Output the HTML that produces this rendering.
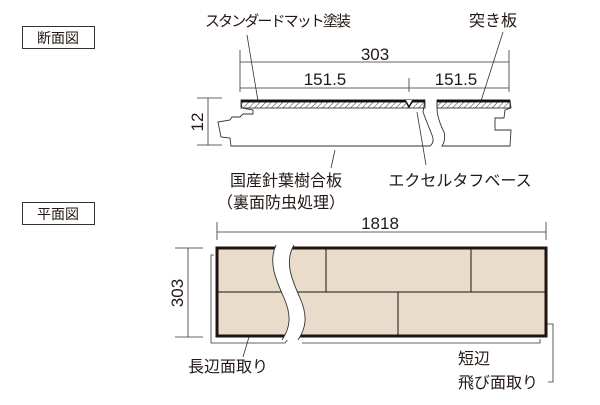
<!DOCTYPE html>
<html><head><meta charset="utf-8"><style>
html,body{margin:0;padding:0;background:#fff;}
svg text{font-family:"Liberation Sans","Noto Sans CJK JP",sans-serif;fill:#231815;}
</style></head><body>
<svg width="600" height="400" viewBox="0 0 600 400" xmlns="http://www.w3.org/2000/svg">
<defs>
<pattern id="h" width="4" height="4" patternUnits="userSpaceOnUse" patternTransform="rotate(45)">
<line x1="0" y1="0" x2="0" y2="4" stroke="#333" stroke-width="1"/></pattern>
</defs>
<rect x="22.5" y="26.5" width="72" height="22" fill="none" stroke="#333"/>
<text x="58" y="43" font-size="14" text-anchor="middle">断面図</text>
<rect x="22.5" y="202.5" width="72" height="22" fill="none" stroke="#333"/>
<text x="58" y="219" font-size="14" text-anchor="middle">平面図</text>

<text x="278" y="26" font-size="15" text-anchor="middle" textLength="146">スタンダードマット塗装</text>
<text x="493" y="26" font-size="16" text-anchor="middle">突き板</text>
<line x1="247" y1="35" x2="258" y2="101" stroke="#333" stroke-width="0.8"/>
<line x1="503" y1="32" x2="481" y2="101" stroke="#333" stroke-width="0.8"/>

<g stroke="#333" stroke-width="0.8" fill="none">
<line x1="240" y1="50" x2="240" y2="92"/>
<line x1="509" y1="50" x2="509" y2="92"/>
<line x1="240" y1="62" x2="509" y2="62"/>
<line x1="240" y1="88" x2="509" y2="88"/>
<line x1="409" y1="78" x2="409" y2="92"/>
<line x1="197" y1="98" x2="222" y2="98"/>
<line x1="197" y1="145" x2="222" y2="145"/>
<line x1="208" y1="98" x2="208" y2="145"/>
</g>
<text x="375" y="60" font-size="17" text-anchor="middle">303</text>
<text x="325" y="85" font-size="17" text-anchor="middle">151.5</text>
<text x="456" y="85" font-size="17" text-anchor="middle">151.5</text>
<text transform="translate(203,122) rotate(-90)" font-size="17" text-anchor="middle">12</text>

<g stroke="#333" stroke-width="0.9">
<path d="M241,100 L425,100 L423,112 Q428,125 432,135 Q435,142 430,146 L231,146 L230,138 L221,137 L218,122 L230,120 L232,117 L240,117 L243,114 L253,114 L253,110 L242,108 Z" fill="#fff"/>
<path d="M437,100 L510,100 L511,108 L505,110 L504,118 L495,118 L495,130 L511,130 L510,146 L442,146 Q446,140 444,132 Q437,118 437,108 Z" fill="#fff"/>
<rect x="241" y="102" width="184" height="6" fill="url(#h)"/>
<rect x="437" y="102" width="73" height="6" fill="url(#h)"/>
</g>
<line x1="241" y1="101" x2="425" y2="101" stroke="#111" stroke-width="2.5"/>
<line x1="437" y1="101" x2="510" y2="101" stroke="#111" stroke-width="2.5"/>
<path d="M405,100 L409,107 L413,100" fill="#fff" stroke="#111" stroke-width="1.5"/>
<line x1="335" y1="150" x2="331" y2="168" stroke="#333" stroke-width="0.8"/>
<line x1="417" y1="112" x2="426" y2="165" stroke="#333" stroke-width="0.8"/>
<text x="286" y="186" font-size="16" text-anchor="middle">国産針葉樹合板</text>
<text x="281" y="208" font-size="16" text-anchor="middle">（裏面防虫処理）</text>
<text x="460" y="186" font-size="16" text-anchor="middle">エクセルタフベース</text>

<g stroke="#333" stroke-width="0.8" fill="none">
<line x1="217" y1="222" x2="217" y2="240"/>
<line x1="546" y1="222" x2="546" y2="240"/>
<line x1="217" y1="232" x2="546" y2="232"/>
<line x1="175" y1="248" x2="203" y2="248"/>
<line x1="175" y1="337" x2="203" y2="337"/>
<line x1="188" y1="248" x2="188" y2="337"/>
<path d="M214,255 L211,255 L211,343 L285,343 L289,338"/>
<path d="M302,343 L540,343 L540,339"/>
<path d="M547,324 L553,324 L553,382 L548,382"/>
<line x1="249" y1="337" x2="243" y2="357"/>
</g>
<text x="380" y="229" font-size="17" text-anchor="middle">1818</text>
<text transform="translate(183,293) rotate(-90)" font-size="17" text-anchor="middle">303</text>
<rect x="217" y="248" width="329" height="88" fill="#e9dccb" stroke="#1e1410" stroke-width="3"/>
<g stroke="#1e1410" stroke-width="1">
<line x1="218" y1="292" x2="545" y2="292"/>
<line x1="326" y1="249" x2="326" y2="292"/>
<line x1="471" y1="249" x2="471" y2="292"/>
<line x1="398" y1="292" x2="398" y2="335"/>
</g>
<path d="M276,245 C268,262 276,280 284,298 C292,316 290,328 282,340 L298,340 C306,328 308,316 300,298 C292,280 284,262 294,245 Z" fill="#fff" stroke="none"/>
<path d="M276,245 C268,262 276,280 284,298 C292,316 290,328 282,340 M294,245 C284,262 292,280 300,298 C308,316 306,328 298,340" fill="none" stroke="#333" stroke-width="0.9"/>
<text x="228" y="372" font-size="16" text-anchor="middle">長辺面取り</text>
<text x="458" y="364" font-size="16">短辺</text>
<text x="458" y="388" font-size="16">飛び面取り</text>
</svg>
</body></html>
